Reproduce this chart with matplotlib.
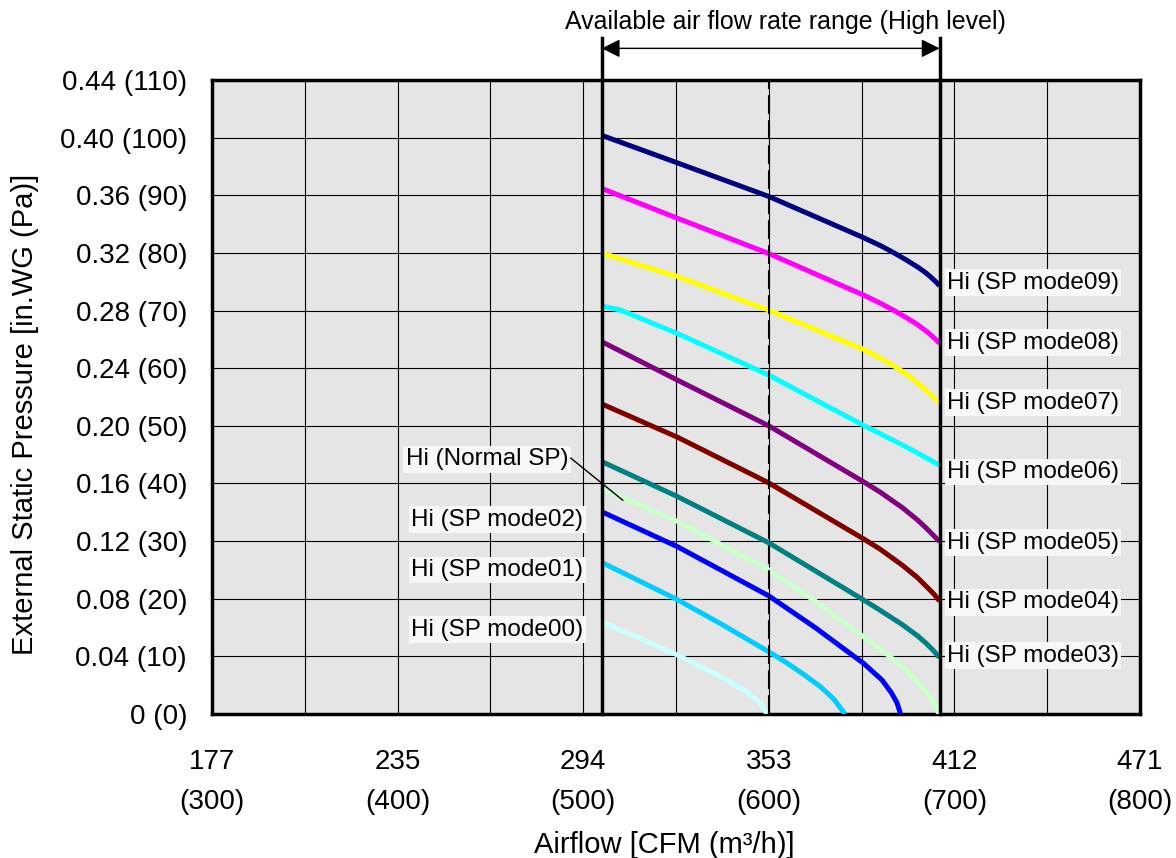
import matplotlib.pyplot as plt

plt.rcParams['font.family'] = ['Liberation Sans', 'DejaVu Sans']

# x axis: m3/h, labels show CFM over (m3/h)
x_ticks = [300, 400, 500, 600, 700, 800]
x_tick_labels = ["177\n(300)", "235\n(400)", "294\n(500)", "353\n(600)", "412\n(700)", "471\n(800)"]
y_ticks = [0, 10, 20, 30, 40, 50, 60, 70, 80, 90, 100, 110]
y_tick_labels = ["0 (0)", "0.04 (10)", "0.08 (20)", "0.12 (30)", "0.16 (40)", "0.20 (50)",
                 "0.24 (60)", "0.28 (70)", "0.32 (80)", "0.36 (90)", "0.40 (100)", "0.44 (110)"]

range_low = 510
range_high = 692
rated_flow = 600

# fan curves (airflow m3/h, static pressure Pa)
mode09_x = [510, 551, 600, 650, 660, 667, 674, 680, 684, 687, 690, 692]
mode09_y = [100.4, 95.6, 89.8, 82.8, 81.3, 80.1, 78.8, 77.6, 76.7, 75.9, 75.0, 74.3]
mode08_x = [510, 551, 600, 651, 660, 667, 674, 680, 685, 690, 692]
mode08_y = [91.2, 86.0, 79.9, 72.7, 71.3, 70.1, 68.8, 67.6, 66.4, 65.0, 64.3]
mode07_x = [510, 551, 600, 651, 660, 667, 674, 680, 685, 689, 692]
mode07_y = [80.0, 75.9, 70.1, 63.3, 61.8, 60.5, 59.0, 57.5, 56.1, 54.9, 53.9]
mode06_x = [510, 520, 551, 600, 651, 672, 692]
mode06_y = [70.8, 70.1, 66.0, 58.8, 50.1, 46.7, 43.2]
mode05_x = [510, 551, 600, 651, 660, 672, 680, 685, 689, 692]
mode05_y = [64.6, 57.9, 50.0, 40.3, 38.5, 35.8, 33.7, 32.2, 30.9, 29.9]
mode04_x = [510, 551, 600, 651, 660, 672, 680, 685, 689, 692]
mode04_y = [53.8, 48.0, 40.1, 30.4, 28.6, 25.8, 23.7, 22.1, 20.8, 19.6]
mode03_x = [510, 551, 600, 651, 660, 672, 680, 685, 689, 692]
mode03_y = [43.8, 37.7, 29.7, 19.8, 18.0, 15.5, 13.6, 12.2, 10.9, 9.8]
normal_x = [510, 551, 600, 625, 651, 662, 672, 682, 687, 690, 691.5]
normal_y = [39.2, 33.4, 25.0, 19.6, 13.4, 10.8, 8.2, 5.0, 3.0, 1.3, 0]
mode02_x = [510, 551, 600, 625, 651, 661, 666, 669, 671]
mode02_y = [35.1, 29.0, 20.5, 15.0, 8.8, 5.9, 3.7, 2.0, 0]
mode01_x = [510, 551, 575, 600, 610, 620, 628, 635, 641]
mode01_y = [26.3, 19.8, 15.5, 10.8, 8.8, 6.6, 4.7, 2.6, 0]
mode00_x = [510, 530, 551, 574, 588, 595, 599]
mode00_y = [16.0, 13.2, 10.2, 6.5, 3.9, 2.0, 0]

right_names = ["Hi (SP mode09)", "Hi (SP mode08)", "Hi (SP mode07)", "Hi (SP mode06)",
               "Hi (SP mode05)", "Hi (SP mode04)", "Hi (SP mode03)"]
right_curves = [(mode09_x, mode09_y), (mode08_x, mode08_y), (mode07_x, mode07_y),
                (mode06_x, mode06_y), (mode05_x, mode05_y), (mode04_x, mode04_y),
                (mode03_x, mode03_y)]
right_colors = ['#000080', '#ff00ff', '#ffff00', '#00ffff', '#800080', '#800000', '#008080']
right_label_y = [74.8, 64.4, 54.0, 42.0, 29.7, 19.4, 10.1]

left_names = ["Hi (Normal SP)", "Hi (SP mode02)", "Hi (SP mode01)", "Hi (SP mode00)"]
left_curves = [(normal_x, normal_y), (mode02_x, mode02_y), (mode01_x, mode01_y), (mode00_x, mode00_y)]
left_colors = ['#ccffcc', '#0000ff', '#00ccff', '#ccffff']
left_label_x = [492, 500, 500, 500]
left_label_y = [44.2, 33.7, 25.0, 14.6]

fig = plt.figure(figsize=(11.76, 8.58), dpi=100)
ax = fig.add_axes([0.1803, 0.1678, 0.7891, 0.7389])
ax.set_facecolor('#e5e5e5')
ax.set_xlim(300, 800)
ax.set_ylim(0, 110)

ax.set_xticks(x_ticks)
ax.set_xticklabels(x_tick_labels, fontsize=20, linespacing=1.72)
ax.set_xticks([350, 450, 550, 650, 750], minor=True)
ax.set_yticks(y_ticks)
ax.set_yticklabels(y_tick_labels, fontsize=20)
ax.tick_params(which='both', length=0)
ax.tick_params(axis='x', pad=25)
ax.tick_params(axis='y', pad=18)
ax.grid(True, which='both', color='black', lw=0.8)
ax.set_axisbelow(True)
for s in ax.spines.values():
    s.set_linewidth(2.5)

ax.set_xlabel("Airflow [CFM (m³/h)]", fontsize=21)
ax.xaxis.set_label_coords(0.4876, -0.185)
ax.set_ylabel("External Static Pressure [in.WG (Pa)]", fontsize=21)
ax.yaxis.set_label_coords(-0.186, 0.473)

for (cx, cy), col in zip(right_curves + left_curves, right_colors + left_colors):
    ax.plot(cx, cy, color=col, lw=3.6, solid_capstyle='butt', solid_joinstyle='round', zorder=3)

for name, ly in zip(right_names, right_label_y):
    ax.text(696, ly, name, ha='left', va='center', fontsize=17.5, zorder=6,
            bbox=dict(boxstyle='square,pad=0.1', fc='#f7f7f7', ec='none'))

for name, lx, ly in zip(left_names, left_label_x, left_label_y):
    ax.text(lx, ly, name, ha='right', va='center', fontsize=17.5, zorder=6,
            bbox=dict(boxstyle='square,pad=0.1', fc='#f7f7f7', ec='none'))

# leader line for normal SP
ax.plot([493.3, 521.3], [44.4, 37.1], color='black', lw=1, zorder=6)

# available range
ax.axvline(rated_flow, color='black', lw=1.5, ls=(0, (9, 3)), zorder=4)
for xv in [range_low, range_high]:
    ax.plot([xv, xv], [0, 117.3], color='black', lw=2.5, clip_on=False, zorder=5)
ax.annotate('', xy=(range_low, 115.5), xytext=(range_high, 115.5), annotation_clip=False,
            arrowprops=dict(arrowstyle='<|-|>', color='black', lw=1, mutation_scale=28,
                            shrinkA=0, shrinkB=0))
ax.text(609, 120.1, "Available air flow rate range (High level)", ha='center', va='center',
        fontsize=18, clip_on=False)

fig.savefig('out.png', dpi=100)
